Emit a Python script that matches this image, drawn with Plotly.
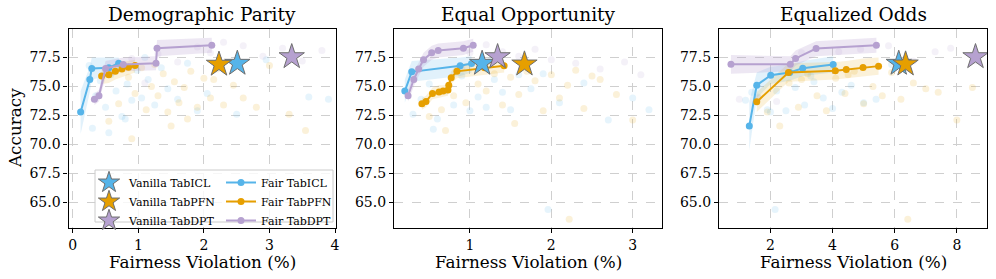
import plotly.graph_objects as go

W, H = 996, 279
BLUE = '#56B4E9'
ORANGE = '#E69F00'
PURPLE = '#B6A1D0'
FONT = 'DejaVu Serif'

panel_titles = ['Demographic Parity', 'Equal Opportunity', 'Equalized Odds']
model_names = ['TabICL', 'TabPFN', 'TabDPT']
x_label = 'Fairness Violation (%)'
y_label = 'Accuracy'

# ---------------- Demographic Parity ----------------
dp_icl_x = [0.12, 0.26, 0.29, 0.55, 0.70]
dp_icl_y = [72.8, 75.6, 76.55, 76.6, 77.0]
dp_icl_lo = [70.9, 74.5, 75.6, 75.9, 76.4]
dp_icl_hi = [74.6, 76.7, 77.5, 77.5, 77.5]
dp_pfn_x = [0.44, 0.55, 0.65, 0.75, 0.85, 0.95]
dp_pfn_y = [75.9, 76.0, 76.3, 76.5, 76.65, 76.8]
dp_pfn_lo = [75.2, 75.3, 75.6, 75.8, 76.0, 76.2]
dp_pfn_hi = [76.5, 76.7, 77.0, 77.1, 77.2, 77.3]
dp_dpt_x = [0.33, 0.40, 0.50, 0.77, 1.27, 1.285, 2.12]
dp_dpt_y = [73.9, 74.2, 76.55, 76.9, 77.0, 78.3, 78.55]
dp_dpt_lo = [73.4, 73.7, 75.8, 76.3, 76.4, 77.6, 77.9]
dp_dpt_hi = [74.4, 74.7, 77.2, 77.5, 77.6, 79.0, 79.2]
dp_vanilla_x = [2.51, 2.23, 3.34]
dp_vanilla_y = [76.98, 76.9, 77.55]
dp_bg_icl_x = [0.25, 0.35, 0.42, 0.5, 0.58, 0.66, 0.75, 0.83, 0.9, 0.98, 1.05, 1.15, 1.25, 1.35,
               1.45, 1.6, 1.75, 1.9, 2.05, 2.5, 2.95, 3.6, 3.9, 0.3, 0.55, 0.8, 1.1]
dp_bg_icl_y = [76.8, 74.2, 75.5, 73.2, 76.0, 74.6, 72.4, 75.2, 73.8, 76.4, 74.0, 75.6, 73.4, 76.6,
               74.8, 73.9, 77.0, 72.9, 74.4, 72.6, 77.3, 74.1, 73.9, 71.4, 71.0, 72.2, 77.5]
dp_bg_pfn_x = [0.55, 0.7, 0.85, 0.95, 1.05, 1.12, 1.2, 1.3, 1.38, 1.45, 1.55, 1.62, 1.7, 1.8, 1.9,
               2.0, 2.1, 2.2, 2.3, 2.45, 2.6, 2.8, 3.0, 3.3, 3.55, 0.9, 1.5, 2.15, 1.25, 1.75]
dp_bg_pfn_y = [72.0, 73.5, 75.8, 74.4, 76.6, 73.0, 75.0, 74.2, 76.1, 72.8, 75.4, 73.6, 74.9, 76.3, 73.2,
               75.7, 74.0, 76.5, 73.4, 75.1, 74.0, 73.2, 76.8, 72.6, 71.2, 70.5, 71.6, 75.6, 76.9, 72.2]
dp_bg_dpt_x = [0.6, 0.9, 1.3, 1.6, 1.9, 2.3, 2.6, 2.9, 3.2, 3.5, 3.8, 2.1, 1.1]
dp_bg_dpt_y = [76.2, 77.4, 77.8, 77.1, 78.4, 78.8, 78.5, 77.6, 78.3, 77.2, 78.1, 77.9, 75.3]

# ---------------- Equal Opportunity ----------------
eo_icl_x = [0.20, 0.285, 0.88, 1.02]
eo_icl_y = [74.6, 76.26, 76.78, 76.98]
eo_icl_lo = [73.6, 75.4, 75.9, 76.2]
eo_icl_hi = [75.6, 77.2, 77.5, 77.6]
eo_pfn_x = [0.41, 0.46, 0.54, 0.62, 0.67, 0.73, 0.74, 0.77, 0.84, 1.18, 1.42]
eo_pfn_y = [73.5, 73.7, 74.4, 74.53, 74.6, 74.7, 75.1, 75.75, 76.3, 76.6, 76.78]
eo_pfn_lo = [73.0, 73.2, 73.9, 74.0, 74.1, 74.2, 74.6, 75.2, 75.7, 76.0, 76.2]
eo_pfn_hi = [74.0, 74.2, 74.9, 75.1, 75.1, 75.2, 75.6, 76.3, 76.9, 77.2, 77.3]
eo_dpt_x = [0.24, 0.31, 0.37, 0.43, 0.53, 0.61, 0.92, 1.04]
eo_dpt_y = [74.2, 75.6, 76.5, 77.3, 77.9, 78.1, 78.3, 78.55]
eo_dpt_lo = [73.7, 75.0, 75.9, 76.7, 77.3, 77.5, 77.7, 78.0]
eo_dpt_hi = [74.7, 76.2, 77.1, 77.9, 78.5, 78.7, 78.9, 79.1]
eo_vanilla_x = [1.15, 1.67, 1.34]
eo_vanilla_y = [76.98, 76.92, 77.55]
eo_bg_icl_x = [0.3, 0.4, 0.5, 0.6, 0.7, 0.8, 0.9, 1.0, 1.1, 1.2, 1.3, 1.4, 1.5, 1.6, 1.75, 1.9, 2.1,
               2.4, 2.7, 3.0, 3.2, 1.96, 0.55, 0.85, 1.25]
eo_bg_icl_y = [72.6, 73.9, 75.2, 72.2, 74.6, 73.4, 75.9, 72.9, 74.1, 73.2, 75.6, 74.5, 73.0, 76.0, 74.8,
               76.1, 73.6, 75.3, 72.1, 74.0, 73.0, 64.4, 71.3, 76.4, 77.2]
eo_bg_pfn_x = [0.5, 0.65, 0.8, 0.95, 1.1, 1.2, 1.3, 1.4, 1.5, 1.6, 1.7, 1.8, 1.9, 2.0, 2.1, 2.2, 2.3,
               2.4, 2.5, 2.6, 2.8, 3.0, 2.22, 0.7, 1.55]
eo_bg_pfn_y = [72.4, 73.0, 74.2, 73.6, 75.2, 74.6, 76.1, 73.4, 75.8, 74.3, 76.3, 75.5, 72.9, 76.0, 74.0,
               75.1, 76.4, 73.1, 75.9, 75.6, 74.3, 72.1, 63.55, 71.2, 71.8]
eo_bg_dpt_x = [1.0, 1.2, 1.4, 1.6, 1.8, 2.0, 2.3, 2.6, 2.9, 3.1, 0.9]
eo_bg_dpt_y = [77.9, 78.6, 78.0, 77.6, 78.2, 77.3, 77.0, 76.5, 77.1, 76.0, 76.6]

# ---------------- Equalized Odds ----------------
eod_icl_x = [1.32, 1.56, 2.01, 2.62, 3.04, 4.02]
eod_icl_y = [71.6, 75.11, 75.97, 76.2, 76.57, 76.9]
eod_icl_lo = [69.5, 74.0, 75.2, 75.5, 75.9, 76.2]
eod_icl_hi = [73.7, 76.2, 76.7, 76.9, 77.2, 77.6]
eod_pfn_x = [1.56, 2.58, 4.09, 4.44, 4.98, 5.48]
eod_pfn_y = [73.67, 76.2, 76.35, 76.46, 76.64, 76.75]
eod_pfn_lo = [72.8, 75.4, 75.6, 75.7, 75.9, 76.0]
eod_pfn_hi = [74.5, 77.0, 77.1, 77.2, 77.4, 77.5]
eod_dpt_x = [0.73, 2.64, 2.81, 3.47, 5.41]
eod_dpt_y = [76.92, 76.92, 77.41, 78.27, 78.56]
eod_dpt_lo = [76.1, 76.3, 76.8, 77.6, 77.9]
eod_dpt_hi = [77.7, 77.6, 78.1, 78.9, 79.2]
eod_vanilla_x = [6.13, 6.35, 8.6]
eod_vanilla_y = [76.98, 76.92, 77.55]
eod_bg_icl_x = [1.2, 1.6, 1.9, 2.2, 2.5, 2.8, 3.1, 3.4, 3.7, 4.0, 4.3, 4.6, 5.0, 5.4, 5.9, 2.15, 1.4,
                2.0, 3.3]
eod_bg_icl_y = [73.8, 74.1, 73.0, 74.6, 72.9, 74.9, 73.4, 75.4, 74.0, 73.1, 74.5, 75.1, 73.6, 73.9,
                76.9, 64.4, 74.5, 72.8, 75.9]
eod_bg_pfn_x = [1.9, 2.3, 2.6, 2.9, 3.2, 3.5, 3.8, 4.1, 4.4, 4.7, 5.0, 5.3, 5.6, 5.9, 6.2, 6.6, 7.0,
                7.4, 8.0, 8.5, 6.42, 3.0, 4.5]
eod_bg_pfn_y = [72.8, 71.6, 75.3, 73.2, 76.1, 74.2, 72.9, 75.7, 74.4, 76.3, 73.5, 75.0, 74.2, 76.2,
                73.9, 75.3, 74.8, 74.5, 72.1, 74.9, 63.55, 75.6, 76.0]
eod_bg_dpt_x = [1.0, 1.6, 2.2, 3.0, 4.2, 4.9, 5.8, 6.6, 7.3, 7.8, 8.6]
eod_bg_dpt_y = [73.9, 74.0, 73.7, 77.9, 78.0, 78.2, 78.5, 77.2, 78.0, 78.3, 77.2]

x_ranges = [[-0.065, 4.015], [0.067, 3.36], [0.345, 8.97]]
y_range = [62.8, 79.95]
x_ticks = [[0, 1, 2, 3, 4], [1, 2, 3], [2, 4, 6, 8]]
y_ticks = [65.0, 67.5, 70.0, 72.5, 75.0, 77.5]

panels = [
    dict(fair=[(dp_icl_x, dp_icl_y, dp_icl_lo, dp_icl_hi), (dp_pfn_x, dp_pfn_y, dp_pfn_lo, dp_pfn_hi),
               (dp_dpt_x, dp_dpt_y, dp_dpt_lo, dp_dpt_hi)],
         van=(dp_vanilla_x, dp_vanilla_y),
         bg=[(dp_bg_icl_x, dp_bg_icl_y), (dp_bg_pfn_x, dp_bg_pfn_y), (dp_bg_dpt_x, dp_bg_dpt_y)]),
    dict(fair=[(eo_icl_x, eo_icl_y, eo_icl_lo, eo_icl_hi), (eo_pfn_x, eo_pfn_y, eo_pfn_lo, eo_pfn_hi),
               (eo_dpt_x, eo_dpt_y, eo_dpt_lo, eo_dpt_hi)],
         van=(eo_vanilla_x, eo_vanilla_y),
         bg=[(eo_bg_icl_x, eo_bg_icl_y), (eo_bg_pfn_x, eo_bg_pfn_y), (eo_bg_dpt_x, eo_bg_dpt_y)]),
    dict(fair=[(eod_icl_x, eod_icl_y, eod_icl_lo, eod_icl_hi), (eod_pfn_x, eod_pfn_y, eod_pfn_lo, eod_pfn_hi),
               (eod_dpt_x, eod_dpt_y, eod_dpt_lo, eod_dpt_hi)],
         van=(eod_vanilla_x, eod_vanilla_y),
         bg=[(eod_bg_icl_x, eod_bg_icl_y), (eod_bg_pfn_x, eod_bg_pfn_y), (eod_bg_dpt_x, eod_bg_dpt_y)]),
]
colors = [BLUE, ORANGE, PURPLE]
band_fill = ['rgba(86,180,233,0.18)', 'rgba(230,159,0,0.15)', 'rgba(182,161,208,0.25)']

# pixel layout
px_x = [(68.5, 336), (394, 662), (719, 987)]
py_top, py_bot = 29, 228

fig = go.Figure()

for p, pan in enumerate(panels):
    xa = 'x' if p == 0 else f'x{p+1}'
    ya = 'y' if p == 0 else f'y{p+1}'
    for m, (bx, by) in enumerate(pan['bg']):
        fig.add_trace(go.Scatter(x=bx, y=by, mode='markers', xaxis=xa, yaxis=ya,
                                 marker=dict(color=colors[m], size=7, opacity=0.15, line=dict(width=0)),
                                 showlegend=False, hoverinfo='skip'))
    for m, (fx, fy, lo, hi) in enumerate(pan['fair']):
        fig.add_trace(go.Scatter(x=list(fx) + list(fx)[::-1], y=list(lo) + list(hi)[::-1],
                                 fill='toself', fillcolor=band_fill[m], line=dict(width=0),
                                 mode='lines', xaxis=xa, yaxis=ya, showlegend=False, hoverinfo='skip'))
    for m, (fx, fy, lo, hi) in enumerate(pan['fair']):
        fig.add_trace(go.Scatter(x=fx, y=fy, mode='lines+markers', xaxis=xa, yaxis=ya,
                                 name='Fair ' + model_names[m], legend='legend2',
                                 line=dict(color=colors[m], width=2),
                                 marker=dict(color=colors[m], size=7),
                                 showlegend=(p == 0)))
    vx, vy = pan['van']
    for m in range(3):
        fig.add_trace(go.Scatter(x=[vx[m]], y=[vy[m]], mode='markers', xaxis=xa, yaxis=ya,
                                 name='Vanilla ' + model_names[m], legend='legend',
                                 marker=dict(symbol='star', size=19, color=colors[m],
                                             line=dict(color='#6e6e6e', width=1)),
                                 showlegend=(p == 0)))

layout = dict(
    width=W, height=H, template='none',
    paper_bgcolor='white', plot_bgcolor='white',
    margin=dict(l=0, r=0, t=0, b=0),
    font=dict(family=FONT, size=13, color='black'),
    showlegend=True,
)
annotations = []
for p in range(3):
    sfx = '' if p == 0 else str(p + 1)
    x0, x1 = px_x[p]
    layout['xaxis' + sfx] = dict(
        domain=[x0 / W, x1 / W], range=x_ranges[p], tickvals=x_ticks[p],
        anchor='y' + sfx, showline=True, mirror=True, linecolor='black', linewidth=1.2,
        ticks='outside', ticklen=4, tickcolor='black', showgrid=True, gridcolor='#cfcfcf',
        griddash='dash', gridwidth=1, zeroline=False, automargin=False,
        tickfont=dict(family=FONT, size=14))
    layout['yaxis' + sfx] = dict(
        domain=[(H - py_bot) / H, (H - py_top) / H], range=y_range, tickvals=y_ticks,
        tickformat='.1f', anchor='x' + sfx, showline=True, mirror=True, linecolor='black',
        linewidth=1.2, ticks='outside', ticklen=4, tickcolor='black', showgrid=True,
        gridcolor='#cfcfcf', griddash='dash', gridwidth=1, zeroline=False, automargin=False,
        tickfont=dict(family=FONT, size=14))
    annotations.append(dict(text=panel_titles[p], x=(x0 + x1) / 2 / W, y=(H - 15) / H,
                            xref='paper', yref='paper', showarrow=False, xanchor='center',
                            yanchor='middle', font=dict(family=FONT, size=18.5)))
    annotations.append(dict(text=x_label, x=(x0 + x1) / 2 / W, y=(H - 262) / H,
                            xref='paper', yref='paper', showarrow=False, xanchor='center',
                            yanchor='middle', font=dict(family=FONT, size=16.8)))
annotations.append(dict(text=y_label, x=15 / W, y=(H - 128) / H, xref='paper', yref='paper',
                        showarrow=False, textangle=-90, xanchor='center', yanchor='middle',
                        font=dict(family=FONT, size=16.8)))
layout['annotations'] = annotations
layout['shapes'] = [dict(type='rect', xref='paper', yref='paper', x0=95 / W, x1=333 / W,
                         y0=(H - 222) / H, y1=(H - 170) / H, line=dict(color='#cccccc', width=1),
                         fillcolor='rgba(255,255,255,0.8)', layer='above')]
layout['legend'] = dict(x=89 / W, y=(H - 168) / H, xanchor='left', yanchor='top',
                        bgcolor='rgba(0,0,0,0)', borderwidth=0, font=dict(family=FONT, size=11),
                        tracegroupgap=0, itemwidth=30)
layout['legend2'] = dict(x=221 / W, y=(H - 168) / H, xanchor='left', yanchor='top',
                         bgcolor='rgba(0,0,0,0)', borderwidth=0, font=dict(family=FONT, size=11),
                         tracegroupgap=0, itemwidth=30)
fig.update_layout(**layout)
fig.write_html('out.html', config={'displayModeBar': False},
               post_script="document.body.style.margin='0';document.body.style.overflow='hidden';")
